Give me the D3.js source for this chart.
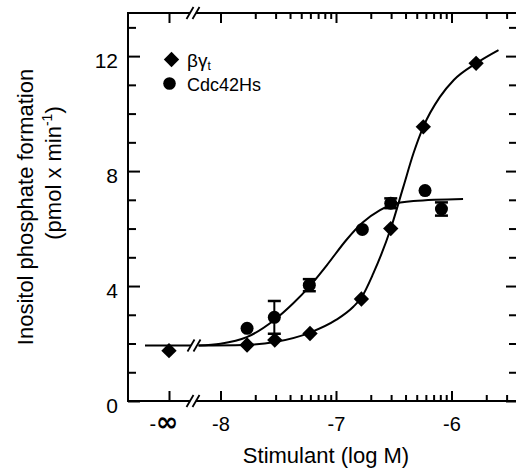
<!DOCTYPE html>
<html>
<head>
<meta charset="utf-8">
<script src="https://cdn.jsdelivr.net/npm/d3@7"></script>
<style>
  html, body { margin: 0; padding: 0; background: #fff; }
  svg { display: block; }
  text { font-family: "Liberation Sans", Arial, Helvetica, sans-serif; fill: #000; }
</style>
</head>
<body>
<svg id="chart" width="516" height="472"></svg>
<script>
// ---- data (log M concentrations, inositol phosphate formation) ----
const seriesNames = ["βγt", "Cdc42Hs"];

// beta-gamma t (diamonds); null log = basal (-infinity)
const bgLog   = [null, -7.77, -7.53, -7.225, -6.78, -6.526, -6.244, -5.787];
const bgValue = [1.75, 1.95, 2.12, 2.35, 3.55, 6.0, 9.54, 11.75];

// Cdc42Hs (circles) with SEM
const cdcLog   = [-7.77, -7.534, -7.231, -6.772, -6.526, -6.229, -6.087];
const cdcValue = [2.53, 2.91, 4.03, 5.97, 6.88, 7.32, 6.68];
const cdcErr   = [0, 0.57, 0.21, 0, 0.17, 0, 0.23];

// fitted curves
const bgCurveLog   = [-8.19, -7.8, -7.53, -7.225, -7.0, -6.85, -6.78, -6.677, -6.526, -6.417, -6.33, -6.244, -6.1, -5.98, -5.787, -5.593];
const bgCurveValue = [1.93, 1.95, 2.05, 2.38, 2.82, 3.28, 3.6, 4.44, 6.0, 7.45, 8.61, 9.54, 10.58, 11.17, 11.75, 12.21];
const cdcCurveLog   = [-8.19, -8.0, -7.773, -7.534, -7.37, -7.231, -7.08, -6.907, -6.772, -6.619, -6.526, -6.33, -5.9];
const cdcCurveValue = [1.93, 1.99, 2.22, 2.82, 3.40, 3.98, 4.72, 5.62, 6.20, 6.64, 6.82, 6.96, 7.03];
const basalValue = 1.93;

// axes
const xMajorTicks = [-8, -7, -6];
const xTickLabels = ["-8", "-7", "-6"];
const xInfLabel = "-∞";
const yMajorTicks = [0, 4, 8, 12];
const yMinorTicks = [1, 2, 3, 5, 6, 7, 9, 10, 11, 13];
const xTitle = "Stimulant (log M)";
const yTitle1 = "Inositol phosphate formation";

// ---- layout ----
const svg = d3.select("#chart");
const L = 128, R = 517, T = 13, B = 401;
const x = d3.scaleLinear().domain([-8, -6]).range([220.5, 451.5]);
const xInf = d3.scalePoint().domain([xInfLabel]).range([169, 169]);
const y = d3.scaleLinear().domain([0, 13.5]).range([B, T]);
const breakX = 193;

// minor log ticks
const xMinorTicks = [];
for (const e of [-8, -7, -6]) {
  for (let k = 2; k <= 9; k++) {
    const v = e + Math.log10(k);
    if (x(v) < R - 4) xMinorTicks.push(v);
  }
}

function styleAxis(g) {
  g.select(".domain").remove();
  g.selectAll(".tick line").attr("stroke", "#000").attr("stroke-width", 2);
}

// bottom axis
svg.append("g").attr("transform", `translate(0,${B})`)
  .call(d3.axisBottom(x).tickValues(xMajorTicks).tickSize(-10).tickPadding(16)
        .tickFormat((d, i) => xTickLabels[i]))
  .call(styleAxis)
  .call(g => g.selectAll("text").attr("font-size", 20).style("font-family", '"Liberation Sans", Arial, sans-serif'));
svg.append("g").attr("transform", `translate(0,${B})`)
  .call(d3.axisBottom(x).tickValues(xMinorTicks).tickSize(-6).tickFormat(""))
  .call(styleAxis);
// -infinity tick + label
svg.append("g").attr("transform", `translate(0,${B})`)
  .call(d3.axisBottom(xInf).tickSize(-10).tickFormat(""))
  .call(styleAxis);
const infText = svg.append("text").attr("x", xInf(xInfLabel) - 5).attr("y", B + 30)
  .attr("text-anchor", "middle");
infText.append("tspan").attr("font-size", 20).text(xInfLabel.charAt(0));
infText.append("tspan").attr("font-size", 27).attr("font-weight", "bold")
  .style("font-family", '"DejaVu Sans", sans-serif')
  .text(xInfLabel.charAt(1));

// top axis
svg.append("g").attr("transform", `translate(0,${T})`)
  .call(d3.axisTop(x).tickValues(xMajorTicks).tickSize(-10).tickFormat(""))
  .call(styleAxis);
svg.append("g").attr("transform", `translate(0,${T})`)
  .call(d3.axisTop(x).tickValues(xMinorTicks).tickSize(-6).tickFormat(""))
  .call(styleAxis);
svg.append("g").attr("transform", `translate(0,${T})`)
  .call(d3.axisTop(xInf).tickSize(-10).tickFormat(""))
  .call(styleAxis);

// left axis
svg.append("g").attr("transform", `translate(${L},0)`)
  .call(d3.axisLeft(y).tickValues(yMajorTicks).tickSize(-12).tickPadding(10))
  .call(styleAxis)
  .call(g => g.selectAll("text").attr("font-size", 21).attr("dy", "0.55em").style("font-family", '"Liberation Sans", Arial, sans-serif'));
svg.append("g").attr("transform", `translate(${L},0)`)
  .call(d3.axisLeft(y).tickValues(yMinorTicks).tickSize(-8).tickFormat(""))
  .call(styleAxis);

// right axis
svg.append("g").attr("transform", `translate(516,0)`)
  .call(d3.axisRight(y).tickValues(yMajorTicks).tickSize(-10).tickFormat(""))
  .call(styleAxis);
svg.append("g").attr("transform", `translate(516,0)`)
  .call(d3.axisRight(y).tickValues(yMinorTicks).tickSize(-7).tickFormat(""))
  .call(styleAxis);

// frame
svg.append("path")
  .attr("d", `M${R},${T}H${L}V${B}H${R}`)
  .attr("fill", "none").attr("stroke", "#000").attr("stroke-width", 2);

// axis breaks
function breakMark(cx, cy) {
  const g = svg.append("g");
  g.append("rect").attr("x", cx - 3).attr("y", cy - 2).attr("width", 6).attr("height", 4).attr("fill", "#fff");
  for (const dx of [-3, 3]) {
    g.append("line")
      .attr("x1", cx + dx - 3.5).attr("y1", cy + 6)
      .attr("x2", cx + dx + 3.5).attr("y2", cy - 6)
      .attr("stroke", "#000").attr("stroke-width", 1.8);
  }
}
breakMark(breakX, T);
breakMark(breakX, B);

// curves
const line = d3.line().x(d => x(d[0])).y(d => y(d[1])).curve(d3.curveMonotoneX);
const curveStyle = p => p.attr("fill", "none").attr("stroke", "#000").attr("stroke-width", 2);
svg.append("path").datum(bgCurveLog.map((v, i) => [v, bgCurveValue[i]])).attr("d", line).call(curveStyle);
svg.append("path").datum(cdcCurveLog.map((v, i) => [v, cdcCurveValue[i]])).attr("d", line).call(curveStyle);
// basal segment from -infinity to the break
svg.append("line")
  .attr("x1", xInf(xInfLabel) - 24).attr("x2", breakX - 2)
  .attr("y1", y(basalValue)).attr("y2", y(basalValue))
  .attr("stroke", "#000").attr("stroke-width", 2);
breakMark(breakX + 1, y(basalValue));

// error bars (Cdc42Hs)
const capW = 13;
cdcLog.forEach((lv, i) => {
  if (!cdcErr[i]) return;
  const cx = x(lv);
  const y1 = y(cdcValue[i] + cdcErr[i]), y2 = y(cdcValue[i] - cdcErr[i]);
  svg.append("line").attr("x1", cx).attr("x2", cx).attr("y1", y1).attr("y2", y2)
    .attr("stroke", "#000").attr("stroke-width", 2);
  for (const yy of [y1, y2]) {
    svg.append("line").attr("x1", cx - capW / 2).attr("x2", cx + capW / 2)
      .attr("y1", yy).attr("y2", yy).attr("stroke", "#000").attr("stroke-width", 2.5);
  }
});

// markers
const diamond = d3.symbol().type(d3.symbolDiamond2).size(150);
const posX = lv => lv === null ? xInf(xInfLabel) : x(lv);
svg.append("g").selectAll("path").data(bgLog.map((v, i) => [v, bgValue[i]])).join("path")
  .attr("d", diamond)
  .attr("transform", d => `translate(${posX(d[0])},${y(d[1])})`)
  .attr("fill", "#000");
svg.append("g").selectAll("circle").data(cdcLog.map((v, i) => [v, cdcValue[i]])).join("circle")
  .attr("cx", d => x(d[0])).attr("cy", d => y(d[1])).attr("r", 6.5).attr("fill", "#000");

// legend
svg.append("path").attr("d", diamond).attr("transform", "translate(171.5,59.5)").attr("fill", "#000");
svg.append("circle").attr("cx", 169.5).attr("cy", 83.5).attr("r", 6.3).attr("fill", "#000");
const lg1 = svg.append("text").attr("x", 187).attr("y", 66.5).attr("font-size", 19);
lg1.append("tspan").text(seriesNames[0].slice(0, 2));
lg1.append("tspan").attr("font-size", 12).attr("dy", 3).text(seriesNames[0].slice(2));
svg.append("text").attr("x", 187).attr("y", 90.5).attr("font-size", 18).text(seriesNames[1]);

// titles
svg.append("text").attr("x", 326).attr("y", 463).attr("text-anchor", "middle")
  .attr("font-size", 22).text(xTitle);
svg.append("text").attr("transform", "translate(33,207) rotate(-90)").attr("text-anchor", "middle")
  .attr("font-size", 22).text(yTitle1);
const yt2 = svg.append("text").attr("transform", "translate(61,173) rotate(-90)").attr("text-anchor", "middle")
  .attr("font-size", 22);
yt2.append("tspan").text("(pmol x min");
yt2.append("tspan").attr("font-size", 14).attr("dy", -9).text("-1");
yt2.append("tspan").attr("dy", 9).text(")");
</script>
</body>
</html>
